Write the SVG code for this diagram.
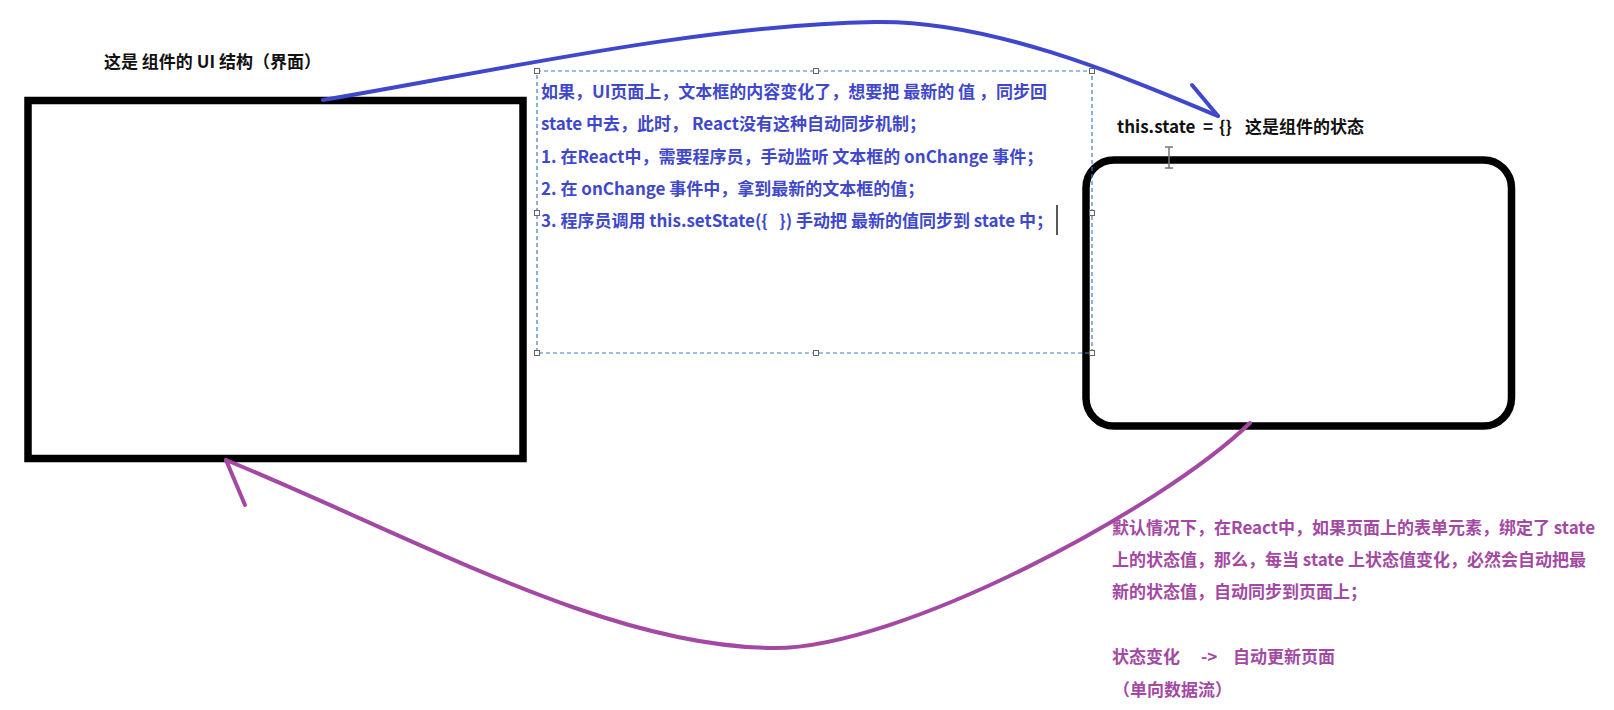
<svg xmlns="http://www.w3.org/2000/svg" width="1614" height="710" viewBox="0 0 1614 710">
<defs>
<style>
.t{font-family:"Noto Sans CJK SC","Liberation Sans",sans-serif;font-weight:bold;font-size:17px;white-space:pre}
.blk{fill:#111}
.blu{fill:#3f48cc}
.pur{fill:#a349a4}
.box{fill:none;stroke:#000;stroke-width:7.5}
.h{fill:#fff;stroke:#666;stroke-width:1}
</style>
</defs>
<rect width="1614" height="710" fill="#fff"/>
<g id="ui-node">
<rect class="box" x="28" y="100.5" width="495" height="358"/>
<text class="t blk" x="104" y="68">这是 组件的 UI 结构（界面）</text>
</g>
<g id="state-node">
<rect class="box" x="1086" y="160" width="425.5" height="266" rx="28"/>
<text class="t blk" y="133"><tspan x="1117">this.state</tspan><tspan x="1203">=</tspan><tspan x="1219">{}</tspan><tspan x="1245">这是组件的状态</tspan></text>
</g>
<g id="note-box">
<rect x="537" y="71" width="555" height="282" fill="none" stroke="#3b7fc4" stroke-width="1.2" stroke-dasharray="4 3"/>
<rect class="h" x="534.5" y="68.5" width="5" height="5"/>
<rect class="h" x="813.5" y="68.5" width="5" height="5"/>
<rect class="h" x="1089.5" y="68.5" width="5" height="5"/>
<rect class="h" x="534.5" y="210.5" width="5" height="5"/>
<rect class="h" x="1089.5" y="210.5" width="5" height="5"/>
<rect class="h" x="534.5" y="350.5" width="5" height="5"/>
<rect class="h" x="813.5" y="350.5" width="5" height="5"/>
<rect class="h" x="1089.5" y="350.5" width="5" height="5"/>
<text class="t blu" x="541" y="98">如果，UI页面上，文本框的内容变化了，想要把 最新的 值 ，同步回</text>
<text class="t blu" x="541" y="130" xml:space="preserve">state 中去，此时， React没有这种自动同步机制；</text>
<text class="t blu" x="541" y="163">1. 在React中，需要程序员，手动监听 文本框的 onChange 事件；</text>
<text class="t blu" x="541" y="195">2. 在 onChange 事件中，拿到最新的文本框的值；</text>
<text class="t blu" x="541" y="227" xml:space="preserve">3. 程序员调用 this.setState({   }) 手动把 最新的值同步到 state 中；</text>
<line x1="1057" y1="205" x2="1057" y2="235" stroke="#222" stroke-width="1.5"/>
</g>
<g id="note-purple">
<text class="t pur" x="1112" y="534">默认情况下，在React中，如果页面上的表单元素，绑定了 state</text>
<text class="t pur" x="1112" y="566">上的状态值，那么，每当 state 上状态值变化，必然会自动把最</text>
<text class="t pur" x="1112" y="598">新的状态值，自动同步到页面上；</text>
<text class="t pur" y="663"><tspan x="1112">状态变化</tspan><tspan x="1201">-&gt;</tspan><tspan x="1233">自动更新页面</tspan></text>
<text class="t pur" x="1113" y="696">（单向数据流）</text>
</g>
<g id="connectors" fill="none" stroke-linecap="round" stroke-linejoin="round">
<path d="M323,100 C500,70 700,25 875,22 C990,20 1120,75 1218,116" stroke="#3f48cc" stroke-width="4"/>
<path d="M1218,116 L1192,85" stroke="#3f48cc" stroke-width="4"/>
<path d="M1250,423 C1160,510 900,648 775,648 C610,648 420,540 226,460" stroke="#a349a4" stroke-width="4"/>
<path d="M226,460 L245,505" stroke="#a349a4" stroke-width="4"/>
</g>
<g id="cursor" stroke="#777" stroke-width="1.5" fill="none">
<path d="M1165,147 L1173,147 M1169,147 L1169,168 M1165,168 L1173,168"/>
</g>
</svg>
